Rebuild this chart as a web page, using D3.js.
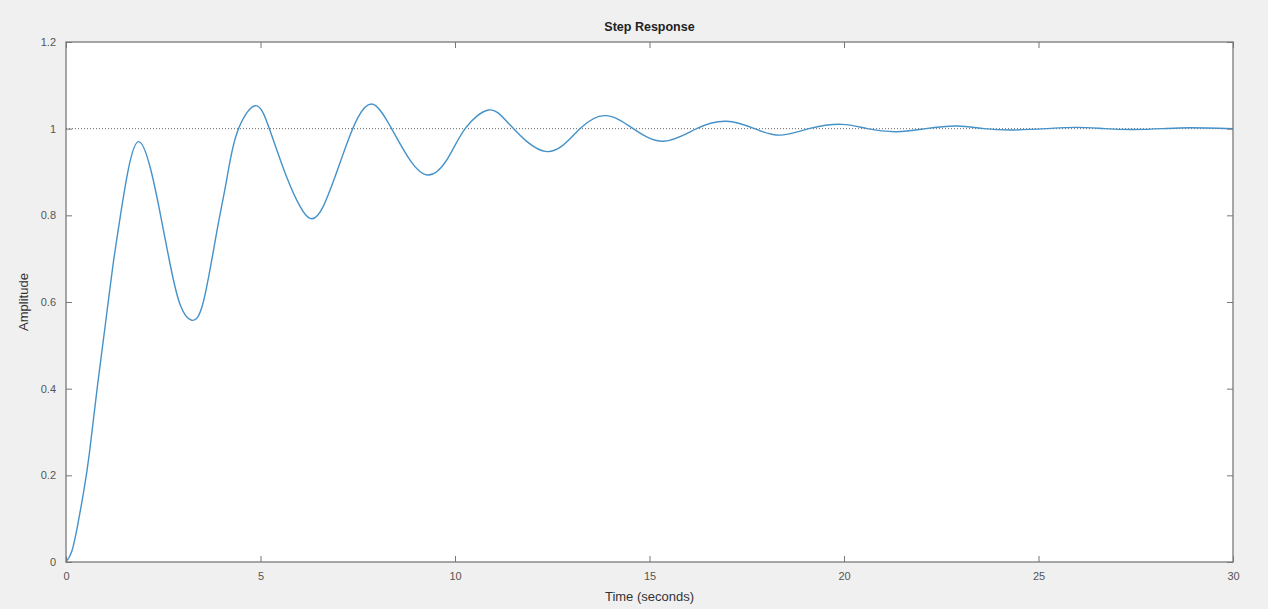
<!DOCTYPE html>
<html>
<head>
<meta charset="utf-8" />
<script src="https://cdn.jsdelivr.net/npm/d3@7"></script>
<style>
body { margin: 0; background: #f0f0f0; }
svg { display: block; }
.tick text { font-family: "Liberation Sans", Arial, sans-serif; font-size: 11px; fill: #555; }
.tick line { stroke: #777; }
.domain { stroke: none; }
.frame { fill: #fff; stroke: #8a8a8a; stroke-width: 1.5; }
.ref { stroke: #666; stroke-width: 1; stroke-dasharray: 1,2; fill: none; }
.resp { stroke: #4592c9; stroke-width: 1.4; fill: none; }
.lbl { font-family: "Liberation Sans", Arial, sans-serif; fill: #333; }
</style>
</head>
<body>
<div id="chart"></div>
<script>
// step response
var times = [0, 0.15, 0.3, 0.45, 0.6, 0.8, 1.0, 1.2, 1.4, 1.6, 1.86, 2.16, 2.42, 2.67, 2.93, 3.23,
  3.53, 3.87, 4.13, 4.39, 4.86, 5.24, 5.67, 6.02, 6.27, 6.61, 7.13, 7.5, 7.9, 8.37, 8.84,
  9.31, 9.79, 10.26, 10.86, 11.4, 12.36, 13.21, 13.9, 14.58, 15.36, 16.21, 16.98, 17.7, 18.35,
  19.1, 19.94, 20.6, 21.35, 22.1, 22.9, 23.6, 24.35, 25.2, 25.98, 26.7, 27.43, 28.2, 28.9, 30];
var amps = [0, 0.025, 0.085, 0.16, 0.25, 0.4, 0.54, 0.68, 0.8, 0.905, 0.97, 0.912, 0.805, 0.69, 0.595, 0.558,
  0.6, 0.759, 0.882, 0.989, 1.053, 0.997, 0.889, 0.82, 0.793, 0.82, 0.943, 1.025, 1.056, 1.0, 0.928,
  0.893, 0.928, 1.0, 1.043, 1.01, 0.947, 1.0, 1.03, 1.0, 0.971, 1.0, 1.017, 1.0, 0.985,
  1.0, 1.01, 1.0, 0.993, 1.0, 1.006, 1.0, 0.997, 1.0, 1.003, 1.0, 0.998, 1.0, 1.002, 1.0];
var xTicks = [0, 5, 10, 15, 20, 25, 30];
var yTicks = [0, 0.2, 0.4, 0.6, 0.8, 1, 1.2];
var finalValue = 1;

var W = 1268, H = 609;
var m = {left: 66, top: 42, right: 35, bottom: 47};
var iw = W - m.left - m.right, ih = H - m.top - m.bottom;

var svg = d3.select("#chart").append("svg").attr("width", W).attr("height", H);
var g = svg.append("g").attr("transform", "translate(" + m.left + "," + m.top + ")");

var x = d3.scaleLinear().domain([0, 30]).range([0, iw]);
var y = d3.scaleLinear().domain([0, 1.2]).range([ih, 0]);

g.append("rect").attr("class", "frame").attr("width", iw).attr("height", ih);

g.append("line").attr("class", "ref")
  .attr("x1", 0).attr("x2", iw).attr("y1", y(finalValue)).attr("y2", y(finalValue));

var pts = times.map(function(t, i) { return [t, amps[i]]; });
g.append("path").datum(pts).attr("class", "resp")
  .attr("d", d3.line().x(function(d) { return x(d[0]); }).y(function(d) { return y(d[1]); })
    .curve(d3.curveNatural));

var fmt = function(d) { return String(d); };

// ticks inside, on all four sides (matlab box)
g.append("g").attr("transform", "translate(0," + ih + ")")
  .call(d3.axisBottom(x).tickValues(xTicks).tickSizeInner(-6).tickSizeOuter(0).tickPadding(10).tickFormat(fmt));
g.append("g")
  .call(d3.axisTop(x).tickValues(xTicks).tickSizeInner(-6).tickSizeOuter(0).tickFormat(""));
g.append("g")
  .call(d3.axisLeft(y).tickValues(yTicks).tickSizeInner(-6).tickSizeOuter(0).tickPadding(10).tickFormat(fmt));
g.append("g").attr("transform", "translate(" + iw + ",0)")
  .call(d3.axisRight(y).tickValues(yTicks).tickSizeInner(-6).tickSizeOuter(0).tickFormat(""));

svg.append("text").attr("class", "lbl")
  .attr("x", m.left + iw / 2).attr("y", 31).attr("text-anchor", "middle")
  .style("font-size", "12.5px").style("font-weight", "bold").style("fill", "#222")
  .text("Step Response");

svg.append("text").attr("class", "lbl")
  .attr("x", m.left + iw / 2).attr("y", 601).attr("text-anchor", "middle")
  .style("font-size", "13px")
  .text("Time (seconds)");

svg.append("text").attr("class", "lbl")
  .attr("transform", "translate(28," + (m.top + ih / 2) + ") rotate(-90)")
  .attr("text-anchor", "middle")
  .style("font-size", "13px")
  .text("Amplitude");
</script>
</body>
</html>
